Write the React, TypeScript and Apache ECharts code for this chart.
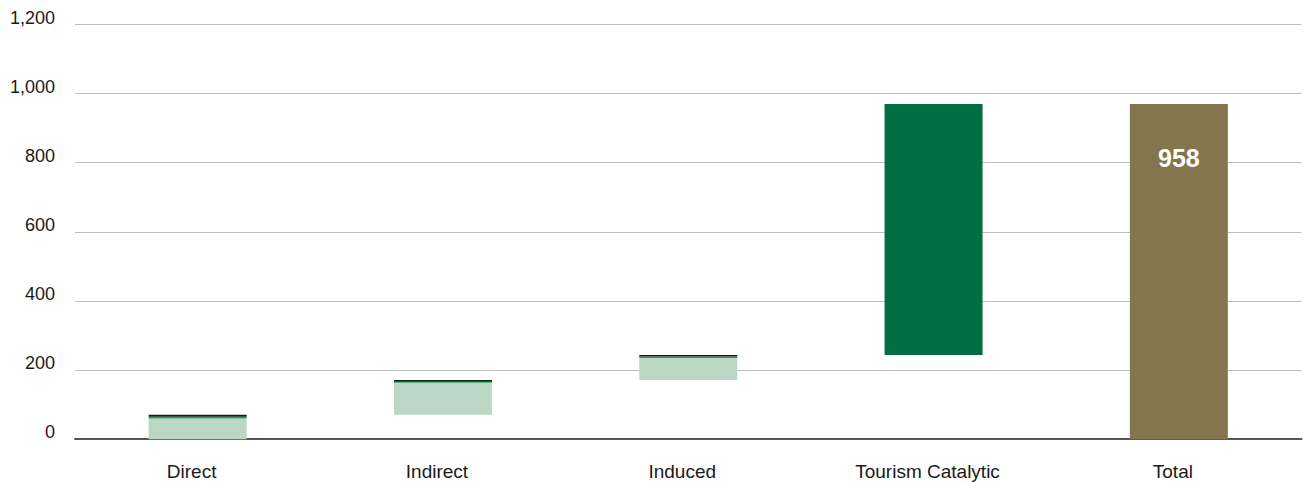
import React, { useEffect, useRef } from "react";
import * as echarts from "echarts";

const categories = ["Direct", "Indirect", "Induced", "Tourism Catalytic", "Total"];
const lightValues = [60, 92, 64, null, null];
const greenValues = [5, 3, 4, null, null];
const blackValues = [6, 5, 5, null, null];
const catalyticValues = [null, null, null, 726, null];
const totalValues = [null, null, null, null, 970];
const totalLabel = "958";
const yTicks = { min: 0, max: 1200, interval: 200 };

export default function App() {
  const ref = useRef<HTMLDivElement>(null);
  useEffect(() => {
    if (!ref.current) return;
    const chart = echarts.init(ref.current, undefined, { renderer: "svg" });
    // waterfall bases from cumulative sums
    const base: (number | null)[] = [];
    let cum = 0;
    categories.forEach((_, i) => {
      if (totalValues[i] != null) {
        base.push(0);
        return;
      }
      base.push(cum);
      cum +=
        (lightValues[i] ?? 0) +
        (greenValues[i] ?? 0) +
        (blackValues[i] ?? 0) +
        (catalyticValues[i] ?? 0);
    });
    const font = "'Liberation Sans', Arial, Helvetica, sans-serif";
    const bw = 98;
    chart.setOption({
      animation: false,
      grid: {
        left: 75,
        right: 1.5,
        top: 24.5,
        bottom: 42.8,
        containLabel: false,
        outerBoundsMode: "none",
      },
      xAxis: {
        type: "category",
        data: categories,
        axisTick: { show: false },
        axisLine: { lineStyle: { color: "#555", width: 2 } },
        axisLabel: {
          color: "#1a1a1a",
          fontSize: 19,
          fontFamily: font,
          margin: 23,
          lineHeight: 19,
          padding: [0, 12, 0, 0],
        },
      },
      yAxis: {
        type: "value",
        min: yTicks.min,
        max: yTicks.max,
        interval: yTicks.interval,
        axisLine: { show: false },
        axisTick: { show: false },
        splitLine: { lineStyle: { color: "#bdbdbd", width: 1 } },
        axisLabel: {
          color: "#1a1a1a",
          fontSize: 18,
          fontFamily: font,
          margin: 20,
          verticalAlign: "bottom",
          lineHeight: 14,
          formatter: (v: number) => v.toLocaleString("en-US"),
        },
      },
      series: [
        {
          type: "bar",
          stack: "w",
          data: base,
          barWidth: bw,
          itemStyle: { color: "transparent" },
          silent: true,
        },
        {
          type: "bar",
          stack: "w",
          data: lightValues.map((v) => (v == null ? "-" : v)),
          barWidth: bw,
          itemStyle: { color: "#bcd6c6" },
        },
        {
          type: "bar",
          stack: "w",
          data: greenValues.map((v) => (v == null ? "-" : v)),
          barWidth: bw,
          itemStyle: { color: "#17a655" },
        },
        {
          type: "bar",
          stack: "w",
          data: blackValues.map((v) => (v == null ? "-" : v)),
          barWidth: bw,
          itemStyle: { color: "#1a1a1a" },
        },
        {
          type: "bar",
          stack: "w",
          data: catalyticValues.map((v) => (v == null ? "-" : v)),
          barWidth: bw,
          itemStyle: { color: "#006e42" },
        },
        {
          type: "bar",
          stack: "w",
          data: totalValues.map((v) => (v == null ? "-" : v)),
          barWidth: bw,
          itemStyle: { color: "#83764e" },
          label: {
            show: true,
            position: "insideTop",
            distance: 42,
            color: "#fff",
            fontSize: 25,
            fontWeight: "bold",
            fontFamily: font,
            formatter: () => totalLabel,
          },
        },
      ],
    });
    return () => chart.dispose();
  }, []);
  return (
    <div
      ref={ref}
      style={{ position: "fixed", left: 0, top: 0, width: 1303, height: 482, background: "#fff" }}
    />
  );
}
